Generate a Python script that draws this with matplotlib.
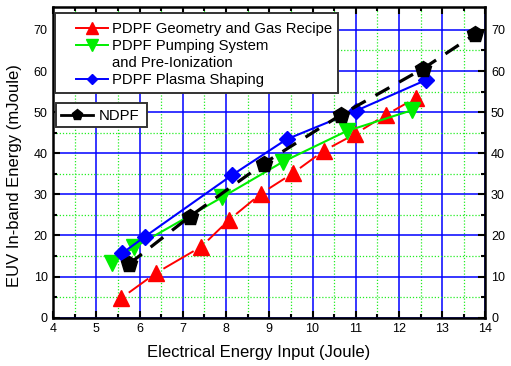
import numpy as np
import matplotlib
matplotlib.use("Agg")
import matplotlib.pyplot as plt
from matplotlib.lines import Line2D
from matplotlib.patches import Rectangle

plt.rcParams['font.family'] = ['Liberation Sans', 'DejaVu Sans']

# PDPF: geometry and gas recipe
geo_x = [5.58, 6.37, 7.43, 8.07, 8.81, 9.54, 10.26, 10.99, 11.69, 12.40]
geo_y = [4.8, 10.8, 17.3, 23.8, 30.2, 35.1, 40.6, 44.7, 49.3, 53.5]
# PDPF: pumping system and pre-ionization
pump_x = [5.35, 5.87, 7.91, 9.31, 10.79, 12.31]
pump_y = [13.4, 17.1, 29.3, 37.9, 45.4, 50.5]
# PDPF: plasma shaping
shape_x = [5.60, 6.12, 8.14, 9.40, 11.00, 12.62]
shape_y = [15.7, 19.7, 34.7, 43.4, 50.3, 57.8]
# NDPF
ndpf_x = [5.76, 7.16, 8.87, 10.65, 12.56, 13.75]
ndpf_y = [13.1, 24.6, 37.5, 49.3, 60.6, 68.9]

x_ticks = [4, 5, 6, 7, 8, 9, 10, 11, 12, 13, 14]
y_ticks = [0, 10, 20, 30, 40, 50, 60, 70]

W, H = 511, 366
fig = plt.figure(figsize=(W / 100, H / 100), dpi=100)
ax = fig.add_axes([0.104, 0.132, 0.846, 0.848])
ax.set_xlim(4, 14)
ax.set_ylim(0, 75.5)

ax.set_xticks(x_ticks)
ax.set_yticks(y_ticks)
ax.set_xticks(np.arange(4.5, 14, 1.0), minor=True)
ax.set_yticks(np.arange(5, 75, 10), minor=True)

ax.grid(which='major', color='#0000ff', linewidth=1.1, linestyle='-')
ax.grid(which='minor', color='#22ee22', linewidth=0.9, linestyle=(0, (1, 1.5)))
ax.set_axisbelow(True)

ax.tick_params(which='both', direction='in', top=True, right=True,
               labelright=True, labelsize=9, width=1.5, color='black')
ax.tick_params(which='major', length=5, pad=4)
ax.tick_params(which='minor', length=3)
for s in ax.spines.values():
    s.set_linewidth(1.8)

fig.canvas.draw()


def gapped(xs, ys, gap_px):
    """Line segments between points, each shortened by gap_px at both ends."""
    pts = ax.transData.transform(np.column_stack([xs, ys]))
    inv = ax.transData.inverted()
    segs = []
    for a, b in zip(pts[:-1], pts[1:]):
        d = b - a
        u = d / np.hypot(*d)
        segs.append((inv.transform(a + u * gap_px), inv.transform(b - u * gap_px)))
    return segs


for p0, p1 in gapped(geo_x, geo_y, 10):
    ax.plot([p0[0], p1[0]], [p0[1], p1[1]], color='red', lw=1.4, zorder=3)
ax.plot(geo_x, geo_y, linestyle='none', marker='^', ms=12, color='red',
        markeredgecolor='red', zorder=4)

ax.plot(pump_x, pump_y, color='#00ee00', lw=1.5, marker='v', ms=12,
        markeredgecolor='#00ee00', zorder=4)
ax.plot(shape_x, shape_y, color='#0000ff', lw=1.5, marker='D', ms=8,
        markeredgecolor='#0000ff', zorder=4)
ax.plot(ndpf_x, ndpf_y, color='black', lw=2.3, dashes=(5, 3.5), marker='p',
        ms=12, zorder=5)

fig.text(258.5 / W, 1 - 352 / H, 'Electrical Energy Input (Joule)',
         fontsize=12, ha='center', va='center')
fig.text(15 / W, 1 - 176 / H, 'EUV In-band Energy (mJoule)',
         fontsize=12, ha='center', va='center', rotation=90)


def frame(x0, y0, x1, y1):
    """Legend box drawn in figure pixel coordinates."""
    fig.add_artist(Rectangle((x0 / W, 1 - y1 / H), (x1 - x0) / W, (y1 - y0) / H,
                             transform=fig.transFigure, facecolor='white',
                             edgecolor='#333333', linewidth=1.4, zorder=9))


frame(55, 13, 338, 93)
frame(56, 103, 147, 127)

# Legend entries
h_geo = Line2D([], [], color='red', lw=1.4, marker='^', ms=8)
h_pump = Line2D([], [], color='#00ee00', lw=1.4, marker='v', ms=8)
h_blank = Line2D([], [], color='none', lw=0)
h_shape = Line2D([], [], color='#0000ff', lw=1.4, marker='D', ms=5.5)
h_ndpf = Line2D([], [], color='black', lw=2.0, marker='p', ms=8)

leg1 = fig.legend([h_geo, h_pump, h_blank, h_shape],
                  ['PDPF Geometry and Gas Recipe', 'PDPF Pumping System',
                   'and Pre-Ionization', 'PDPF Plasma Shaping'],
                  loc='upper left', bbox_to_anchor=(76 / W, 1 - 22 / H),
                  borderaxespad=0, borderpad=0, frameon=False,
                  fontsize=10.7, handlelength=2.15, handletextpad=0.3,
                  labelspacing=0.2)
leg1.set_zorder(10)

leg2 = fig.legend([h_ndpf], ['NDPF'], loc='upper left',
                  bbox_to_anchor=(61 / W, 1 - 109 / H),
                  borderaxespad=0, borderpad=0, frameon=False,
                  fontsize=10.7, handlelength=2.15, handletextpad=0.4)
leg2.set_zorder(10)

fig.savefig('out.png', dpi=100)
